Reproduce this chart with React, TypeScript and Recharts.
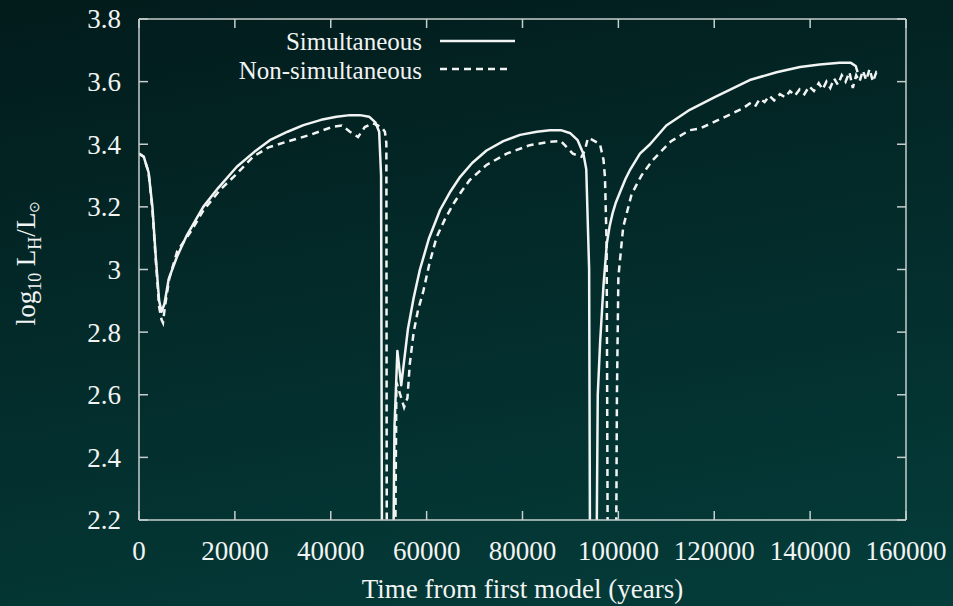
import { LineChart, Line, XAxis, YAxis, Legend } from 'recharts'

const FRAME = '#c6cecd'
const INK = '#f1f4f3'
const FONT = "'Liberation Serif', 'Times New Roman', Times, serif"
const textStyle = { fontFamily: FONT }

// Simultaneous run (years, log10 LH/Lsun); values below 2.2 run off the bottom of the plot
const simTime = [
  0, 1000, 2000, 2800, 3500, 4200, 4700, 5300, 6200, 7900, 10000, 13400, 16500, 20400, 24000, 27300, 31000, 34300, 38000,
  41200, 44000, 46100, 48000, 49300, 50100, 50500, 50700,
  53000, 53300, 53900, 54700, 55400, 56100, 57300, 58600, 60500, 62800, 65000, 67000, 69500, 72500, 76000, 79500, 83000,
  85700, 88000, 90000, 91500, 92700, 93300, 93900, 94100,
  95400, 95700, 96200, 96900, 97600, 98200, 98800, 99500, 100300, 101500, 102500, 104500, 106600, 110000, 114900, 120000,
  127400, 133000, 137900, 142000, 146200, 148500, 149500, 149900,
]
const simLum = [
  3.37, 3.36, 3.31, 3.2, 3.04, 2.9, 2.865, 2.89, 2.97, 3.04, 3.11, 3.2, 3.26, 3.328, 3.375, 3.413, 3.44, 3.461, 3.478,
  3.488, 3.493, 3.493, 3.488, 3.47, 3.44, 3.3, 2.0,
  2.0, 2.5, 2.74, 2.63, 2.72, 2.81, 2.91, 3.0, 3.1, 3.19, 3.25, 3.296, 3.34, 3.38, 3.41, 3.43, 3.44,
  3.445, 3.445, 3.435, 3.413, 3.37, 3.32, 3.0, 2.0,
  2.0, 2.6, 2.77, 2.95, 3.084, 3.14, 3.18, 3.215, 3.245, 3.29, 3.32, 3.37, 3.4, 3.46, 3.51, 3.55,
  3.605, 3.63, 3.647, 3.655, 3.66, 3.66, 3.65, 3.63,
]

// Non-simultaneous run
const nonTime = [
  0, 1000, 2000, 2800, 3500, 4200, 4700, 5000, 5400, 6300, 8000, 10600, 13500, 16900, 20000, 23800, 27000, 30800, 33500,
  35700, 38400, 40500, 42300, 44000, 45700, 47100, 48800, 50600, 51300, 51600, 51700,
  53400, 53700, 54500, 55300, 56000, 56500, 57300, 58200, 59300, 60600, 62100, 63800, 65600, 67300, 69000, 72500, 76700,
  81500, 85700, 88000, 90500, 92300, 93000, 93650, 94500, 96160, 96900, 97200, 97550, 97800,
  99500, 99700, 100000, 101000, 102750, 104800, 107200, 111000, 114900, 117000, 121200, 124000, 126000, 127400, 128500,
  129500, 130500, 131500, 132500, 133700, 134800, 135800, 136800, 137800, 138800, 139800, 140800, 141800, 142600, 143400,
  144200, 145000, 145800, 146600, 147400, 148200, 148900, 149600, 150300, 151000, 151700, 152400, 153100, 153800, 154600,
]
const nonLum = [
  3.37, 3.36, 3.31, 3.19, 3.03, 2.88, 2.84, 2.83, 2.88, 2.97, 3.06, 3.116, 3.19, 3.254, 3.3, 3.36, 3.39, 3.408, 3.42,
  3.43, 3.445, 3.456, 3.46, 3.44, 3.423, 3.455, 3.467, 3.455, 3.44, 3.404, 2.0,
  2.0, 2.64, 2.6, 2.56, 2.59, 2.7, 2.8, 2.87, 2.93, 3.02, 3.104, 3.16, 3.21, 3.25, 3.286, 3.334, 3.37,
  3.397, 3.408, 3.41, 3.37, 3.36, 3.38, 3.42, 3.415, 3.4, 3.35, 3.295, 3.08, 2.0,
  2.0, 2.6, 2.976, 3.135, 3.24, 3.3, 3.35, 3.41, 3.445, 3.45, 3.48, 3.5, 3.515, 3.53, 3.52,
  3.545, 3.535, 3.555, 3.54, 3.56, 3.55, 3.57, 3.555, 3.575, 3.56, 3.585, 3.57, 3.595, 3.575, 3.6,
  3.58, 3.61, 3.59, 3.62, 3.6, 3.63, 3.58, 3.62, 3.6, 3.635, 3.605, 3.64, 3.6, 3.63, 3.62,
]

const xTicks = [0, 20000, 40000, 60000, 80000, 100000, 120000, 140000, 160000]
const yTicks = [2.2, 2.4, 2.6, 2.8, 3.0, 3.2, 3.4, 3.6, 3.8]
const seriesNames = ['Simultaneous', 'Non-simultaneous']

const simData = simTime.map((t, i) => ({ t, lum: simLum[i] }))
const nonData = nonTime.map((t, i) => ({ t, lum: nonLum[i] }))

const fmtY = (v: number) => String(Number(v.toFixed(1)))

const BottomTick = ({ x, y, payload }: any) => (
  <g>
    <line x1={x} y1={y} x2={x} y2={y - 9} stroke={FRAME} strokeWidth={1.5} />
    <text x={x} y={y + 40} textAnchor="middle" fill={INK} fontSize={27} fontFamily={FONT} style={textStyle}>
      {payload.value}
    </text>
  </g>
)

const TopTick = ({ x, y }: any) => <line x1={x} y1={y} x2={x} y2={y + 9} stroke={FRAME} strokeWidth={1.5} />

const LeftTick = ({ x, y, payload }: any) => (
  <g>
    <line x1={x} y1={y} x2={x + 9} y2={y} stroke={FRAME} strokeWidth={1.5} />
    <text x={x - 18} y={y} dy="0.35em" textAnchor="end" fill={INK} fontSize={27} fontFamily={FONT} style={textStyle}>
      {fmtY(payload.value)}
    </text>
  </g>
)

const RightTick = ({ x, y }: any) => <line x1={x} y1={y} x2={x - 9} y2={y} stroke={FRAME} strokeWidth={1.5} />

const XTitle = ({ viewBox }: any) => (
  <text
    x={viewBox.x + viewBox.width / 2}
    y={viewBox.y + 78}
    textAnchor="middle"
    fill={INK}
    fontSize={27}
    fontFamily={FONT}
    style={textStyle}
  >
    Time from first model (years)
  </text>
)

const YTitle = () => (
  <text
    x={26}
    y={263}
    transform="rotate(-90, 26, 263)"
    textAnchor="middle"
    dy="0.35em"
    fill={INK}
    fontSize={27}
    fontFamily={FONT}
    style={textStyle}
  >
    log
    <tspan fontSize={18} dy={6}>10</tspan>
    <tspan dy={-6}> L</tspan>
    <tspan fontSize={18} dy={6}>H</tspan>
    <tspan dy={-6}>/L</tspan>
    <tspan fontSize={14} dy={4}>⊙</tspan>
  </text>
)

const KeyBox = () => (
  <svg width={330} height={72} style={{ display: 'block' }}>
    <text x={222} y={30} textAnchor="end" fill={INK} fontSize={25} fontFamily={FONT} style={textStyle}>
      {seriesNames[0]}
    </text>
    <line x1={240} y1={21} x2={315} y2={21} stroke={INK} strokeWidth={2.5} />
    <text x={222} y={59} textAnchor="end" fill={INK} fontSize={25} fontFamily={FONT} style={textStyle}>
      {seriesNames[1]}
    </text>
    <line x1={240} y1={49} x2={312} y2={49} stroke={INK} strokeWidth={2.5} strokeDasharray="7 5" />
  </svg>
)

export default function App() {
  return (
    <div
      style={{
        position: 'absolute',
        left: 0,
        top: 0,
        width: 953,
        height: 606,
        fontFamily: FONT,
        background: 'linear-gradient(170deg, #021b1b 0%, #032c2b 50%, #043d3a 100%)',
      }}
    >
      <LineChart width={953} height={606} margin={{ top: 18, right: 46, bottom: 26, left: 39 }} style={textStyle}>
        <XAxis
          xAxisId="bottom"
          type="number"
          dataKey="t"
          domain={[0, 160000]}
          allowDataOverflow
          ticks={xTicks}
          interval={0}
          height={60}
          tickSize={0}
          tickMargin={0}
          tick={<BottomTick />}
          axisLine={{ stroke: FRAME, strokeWidth: 1.5 }}
          label={{ content: <XTitle /> }}
        />
        <XAxis
          xAxisId="top"
          orientation="top"
          type="number"
          dataKey="t"
          domain={[0, 160000]}
          allowDataOverflow
          ticks={xTicks}
          interval={0}
          height={1}
          tickSize={0}
          tickMargin={0}
          tick={<TopTick />}
          axisLine={{ stroke: FRAME, strokeWidth: 1.5 }}
        />
        <YAxis
          yAxisId="left"
          type="number"
          domain={[2.2, 3.8]}
          allowDataOverflow
          ticks={yTicks}
          interval={0}
          width={100}
          tickSize={0}
          tickMargin={0}
          tick={<LeftTick />}
          axisLine={{ stroke: FRAME, strokeWidth: 1.5 }}
          label={{ content: <YTitle /> }}
        />
        <YAxis
          yAxisId="right"
          orientation="right"
          type="number"
          domain={[2.2, 3.8]}
          allowDataOverflow
          ticks={yTicks}
          interval={0}
          width={1}
          tickSize={0}
          tickMargin={0}
          tick={<RightTick />}
          axisLine={{ stroke: FRAME, strokeWidth: 1.5 }}
        />
        <Legend
          layout="horizontal"
          verticalAlign="middle"
          align="center"
          content={<KeyBox />}
          wrapperStyle={{ left: 200, top: 20, width: 330, height: 72 }}
        />
        <Line
          xAxisId="bottom"
          yAxisId="left"
          data={simData}
          dataKey="lum"
          name={seriesNames[0]}
          type="linear"
          stroke={INK}
          strokeWidth={2.5}
          strokeLinejoin="round"
          dot={false}
          isAnimationActive={false}
        />
        <Line
          xAxisId="bottom"
          yAxisId="left"
          data={nonData}
          dataKey="lum"
          name={seriesNames[1]}
          type="linear"
          stroke={INK}
          strokeWidth={2.5}
          strokeDasharray="7 5"
          dot={false}
          isAnimationActive={false}
        />
      </LineChart>
    </div>
  )
}
